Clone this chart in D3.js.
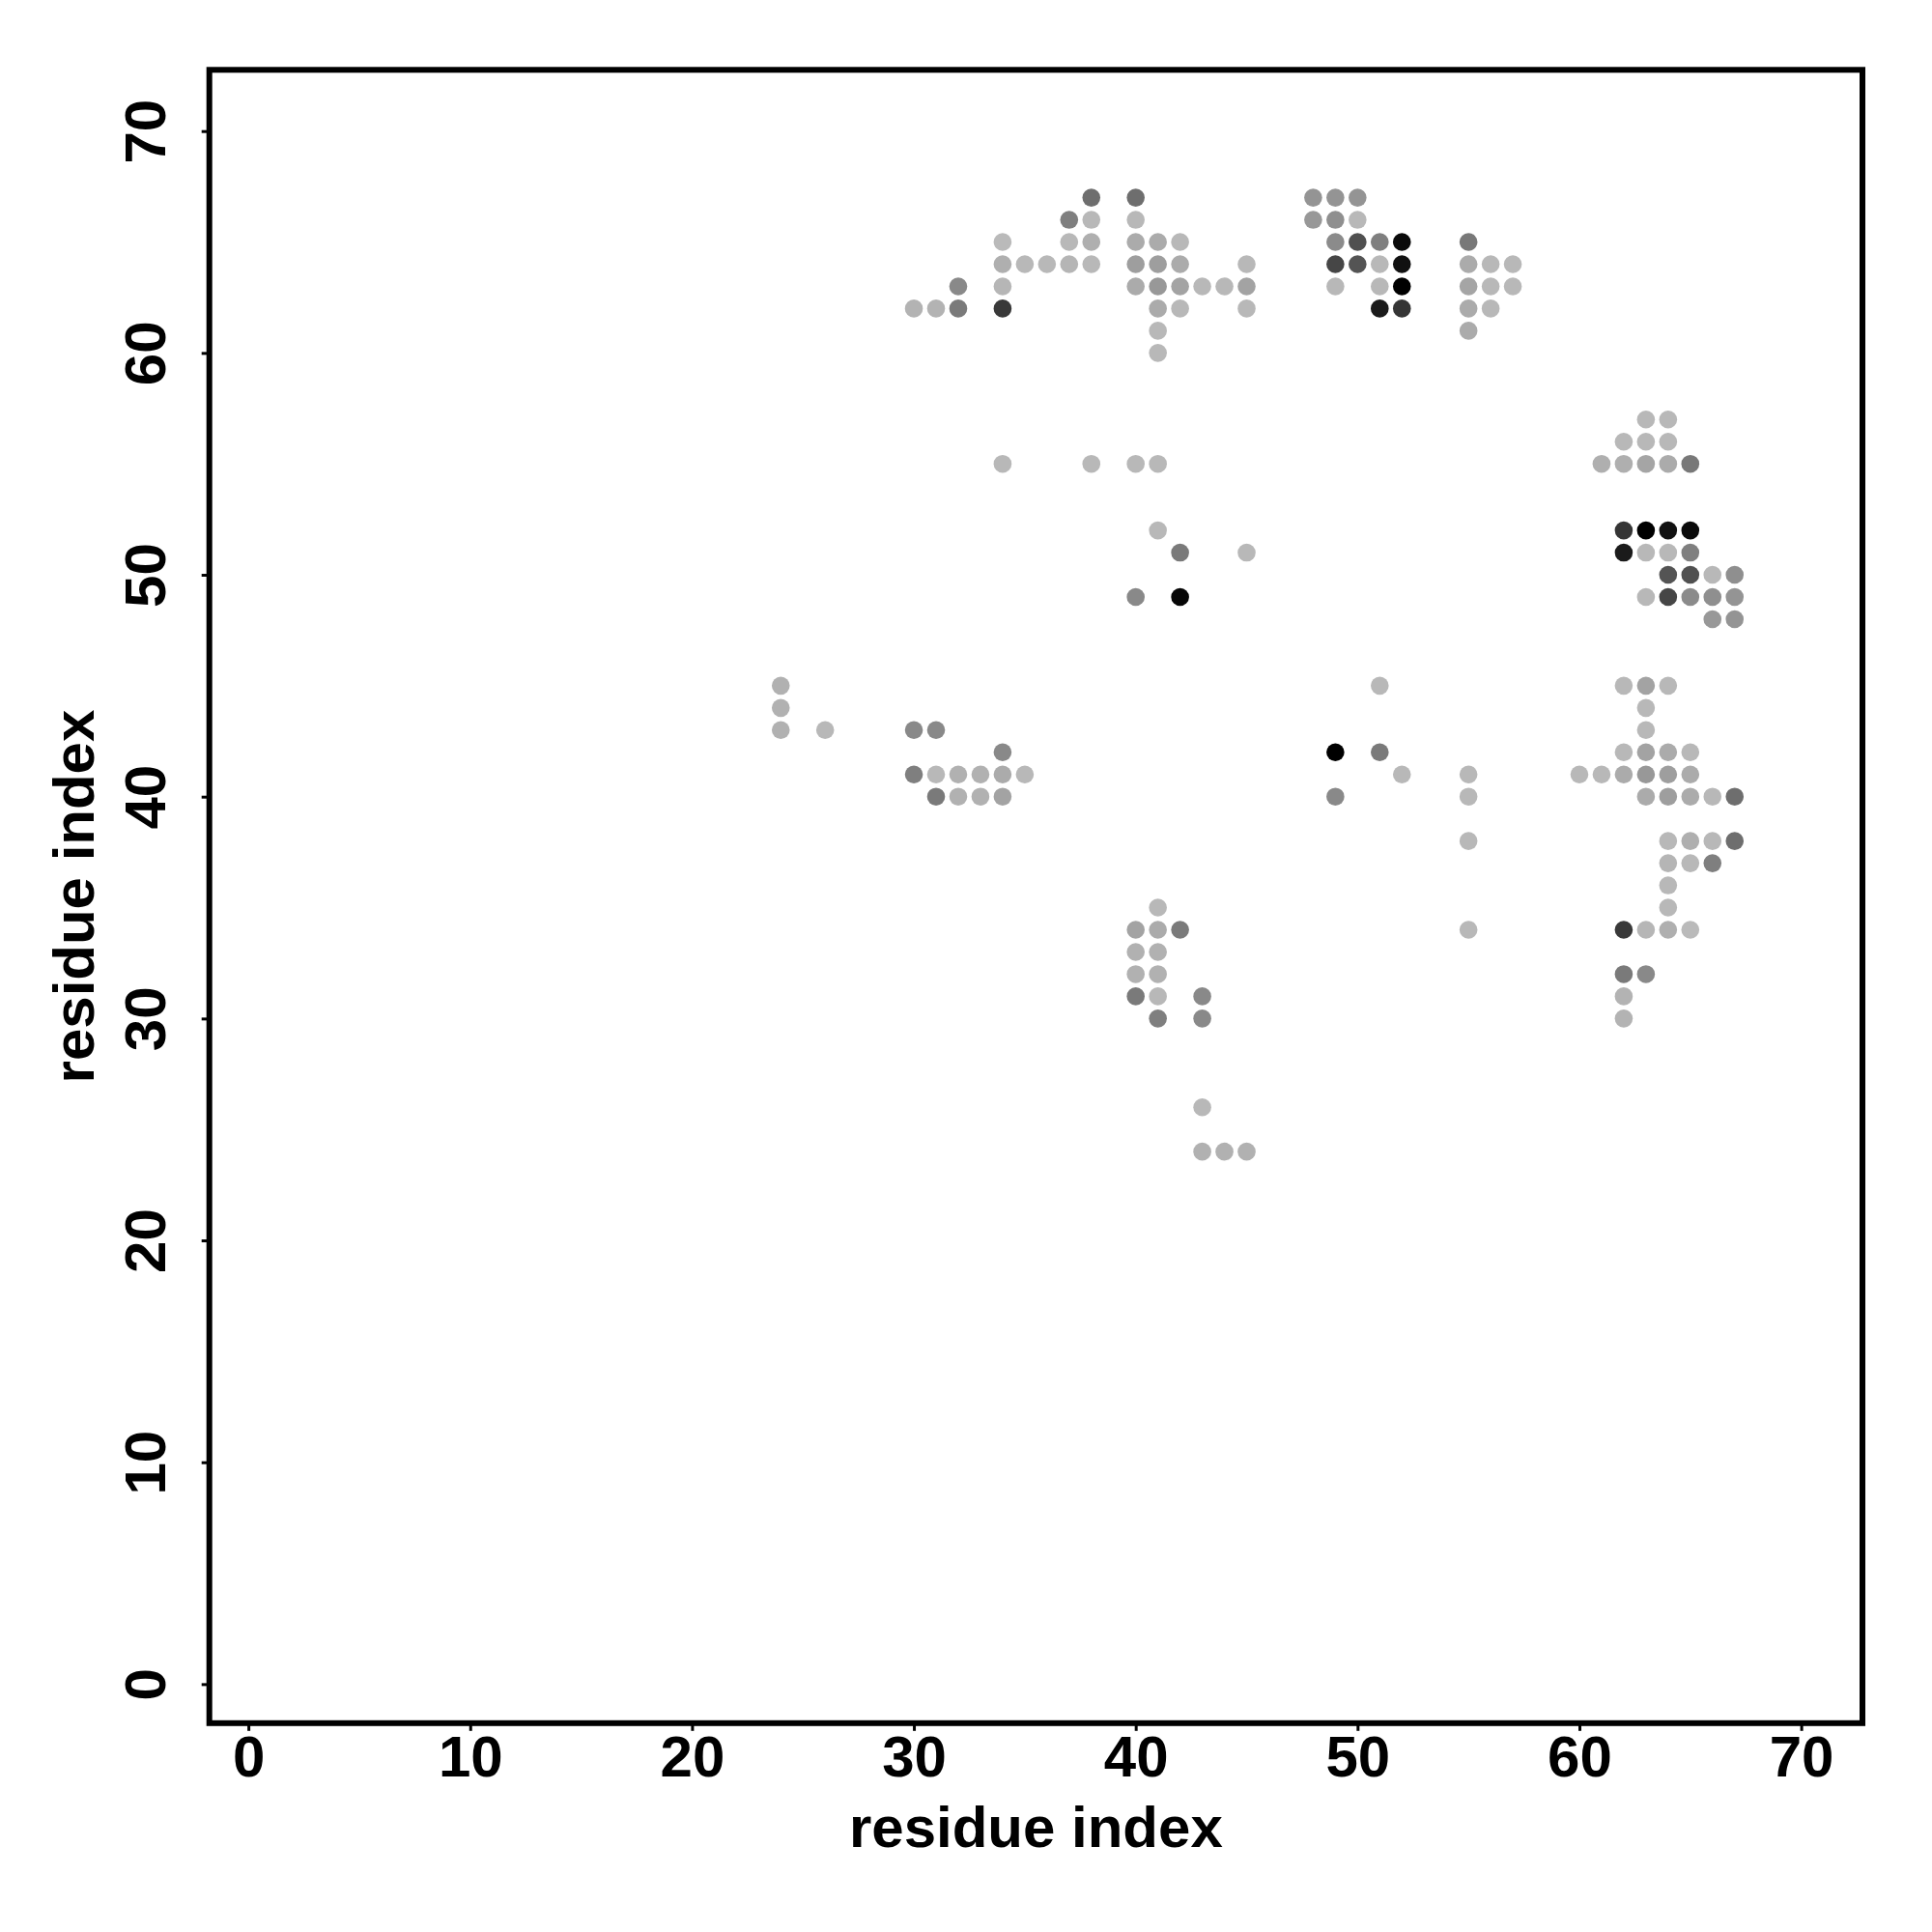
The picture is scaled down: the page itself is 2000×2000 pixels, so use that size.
<!DOCTYPE html>
<html>
<head>
<meta charset="utf-8">
<script src="https://cdn.jsdelivr.net/npm/d3@7"></script>
<style>
  html, body { margin: 0; padding: 0; background: #fff; }
  svg text { font-family: "Liberation Sans", Arial, Helvetica, sans-serif; font-weight: bold; }
</style>
</head>
<body>
<svg id="chart" width="2000" height="2000"></svg>
<script>
// Contact map: [residue i, residue j, contact score 0..1]
const topLeftCluster = [
  [30,62,0.06],[31,62,0.06],[32,62,0.36],[32,63,0.28],
  [34,65,0.02],[34,64,0.08],[34,63,0.04],[34,62,0.70],
  [35,64,0.03],[36,64,0.03],[37,64,0.05],[37,65,0.03],[37,66,0.33],
  [38,67,0.42],[38,66,0.03],[38,65,0.08],[38,64,0.03],
  [40,67,0.42],[40,66,0.03],[40,65,0.10],[40,64,0.17],[40,63,0.10],
  [41,65,0.10],[41,64,0.17],[41,63,0.20],[41,62,0.10],[41,61,0.03],[41,60,0.03],
  [42,65,0.03],[42,64,0.10],[42,63,0.14],[42,62,0.03],
  [43,63,0.03],[44,63,0.03],
  [45,64,0.03],[45,63,0.14],[45,62,0.03]
];
const topRightCluster = [
  [48,67,0.22],[48,66,0.20],
  [49,67,0.22],[49,66,0.25],[49,65,0.27],[49,64,0.63],[49,63,0.03],
  [50,67,0.22],[50,66,0.03],[50,65,0.58],[50,64,0.56],
  [51,65,0.33],[51,64,0.03],[51,63,0.03],[51,62,0.86],
  [52,65,0.95],[52,64,0.91],[52,63,1.00],[52,62,0.72],
  [55,65,0.37],[55,64,0.10],[55,63,0.13],[55,62,0.10],[55,61,0.10],
  [56,64,0.03],[56,63,0.03],[56,62,0.03],
  [57,64,0.03],[57,63,0.03]
];
const middleCluster = [
  [34,55,0.03],[38,55,0.03],[40,55,0.03],[41,55,0.03],
  [41,52,0.03],[42,51,0.36],[45,51,0.03],[40,49,0.28],[42,49,0.97]
];
const rightUpperCluster = [
  [63,57,0.03],[64,57,0.03],
  [62,56,0.03],[63,56,0.03],[64,56,0.03],
  [61,55,0.08],[62,55,0.08],[63,55,0.13],[64,55,0.10],[65,55,0.37],
  [62,52,0.72],[63,52,1.00],[64,52,0.91],[65,52,0.95],
  [62,51,0.86],[63,51,0.03],[64,51,0.03],[65,51,0.33],
  [64,50,0.56],[65,50,0.58],[66,50,0.03],[67,50,0.25],
  [63,49,0.03],[64,49,0.63],[65,49,0.27],[66,49,0.25],[67,49,0.22],
  [66,48,0.20],[67,48,0.22]
];
const leftMiddleCluster = [
  [24,45,0.07],[24,44,0.07],[24,43,0.07],[26,43,0.03],
  [30,43,0.28],[31,43,0.28],[34,42,0.28],
  [30,41,0.33],[31,41,0.03],[32,41,0.07],[33,41,0.07],[34,41,0.10],[35,41,0.03],
  [31,40,0.36],[32,40,0.07],[33,40,0.07],[34,40,0.14]
];
const centerCluster = [
  [51,45,0.03],[49,42,1.00],[51,42,0.36],[52,41,0.03],[55,41,0.03],
  [49,40,0.28],[55,40,0.03],[55,38,0.03],[55,34,0.03]
];
const bottomCluster = [
  [41,35,0.03],
  [40,34,0.14],[41,34,0.10],[42,34,0.36],
  [40,33,0.07],[41,33,0.07],
  [40,32,0.07],[41,32,0.07],
  [40,31,0.36],[41,31,0.03],[43,31,0.28],
  [41,30,0.33],[43,30,0.28],
  [43,26,0.03],
  [43,24,0.07],[44,24,0.07],[45,24,0.07]
];
const rightLowerCluster = [
  [62,45,0.03],[63,45,0.14],[64,45,0.03],
  [63,44,0.03],[63,43,0.03],
  [62,42,0.03],[63,42,0.14],[64,42,0.10],[65,42,0.03],
  [60,41,0.03],[61,41,0.03],[62,41,0.10],[63,41,0.20],[64,41,0.17],[65,41,0.10],
  [63,40,0.10],[64,40,0.17],[65,40,0.10],[66,40,0.03],[67,40,0.42],
  [64,38,0.03],[65,38,0.08],[66,38,0.03],[67,38,0.42],
  [64,37,0.05],[65,37,0.03],[66,37,0.33],
  [64,36,0.03],[64,35,0.03],
  [62,34,0.70],[63,34,0.04],[64,34,0.08],[65,34,0.02],
  [62,32,0.36],[63,32,0.28],
  [62,31,0.06],[62,30,0.06]
];
const xTicks = [0, 10, 20, 30, 40, 50, 60, 70];
const yTicks = [0, 10, 20, 30, 40, 50, 60, 70];
const xTitle = "residue index";
const yTitle = "residue index";
const residueRange = [1, 70];

const contacts = [].concat(topLeftCluster, topRightCluster, middleCluster, rightUpperCluster,
  leftMiddleCluster, centerCluster, bottomCluster, rightLowerCluster);

// Layout
const plot = { left: 216.7, right: 1928, top: 72.3, bottom: 1783.8 };
const ext = 0.04 * (residueRange[1] - residueRange[0]);
const dom = [residueRange[0] - ext, residueRange[1] + ext];

const x = d3.scaleLinear().domain(dom).range([plot.left, plot.right]);
const y = d3.scaleLinear().domain(dom).range([plot.bottom, plot.top]);
const color = d3.scaleLinear().domain([0, 1]).range(["#bebebe", "#000000"]);

const svg = d3.select("#chart");
svg.append("rect").attr("width", 2000).attr("height", 2000).attr("fill", "#fff");

// Points
svg.append("g").selectAll("circle")
  .data(contacts)
  .join("circle")
  .attr("cx", d => x(d[0]))
  .attr("cy", d => y(d[1]))
  .attr("r", 9.3)
  .attr("fill", d => color(d[2]));

// X axis
const fontSize = 60;
const gx = svg.append("g")
  .attr("transform", `translate(0,${plot.bottom})`)
  .call(d3.axisBottom(x).tickValues(xTicks).tickFormat(d3.format("d")).tickSize(8).tickPadding(5));
gx.select(".domain").remove();
gx.selectAll(".tick line").attr("stroke", "#000").attr("stroke-width", 3);
gx.selectAll(".tick text").attr("font-size", fontSize).attr("fill", "#000");

// Y axis
const gy = svg.append("g")
  .attr("transform", `translate(${plot.left},0)`)
  .call(d3.axisLeft(y).tickValues(yTicks).tickFormat(d3.format("d")).tickSize(8));
gy.select(".domain").remove();
gy.selectAll(".tick line").attr("stroke", "#000").attr("stroke-width", 3);
gy.selectAll(".tick text")
  .attr("font-size", fontSize)
  .attr("fill", "#000")
  .attr("transform", "rotate(-90)")
  .attr("x", 0)
  .attr("y", -46)
  .attr("dy", 0)
  .attr("text-anchor", "middle");

// Box
svg.append("rect")
  .attr("x", plot.left).attr("y", plot.top)
  .attr("width", plot.right - plot.left).attr("height", plot.bottom - plot.top)
  .attr("fill", "none").attr("stroke", "#000").attr("stroke-width", 6);

// Titles
svg.append("text")
  .attr("x", (plot.left + plot.right) / 2).attr("y", 1912)
  .attr("text-anchor", "middle").attr("font-size", fontSize).attr("fill", "#000")
  .text(xTitle);
svg.append("text")
  .attr("transform", `translate(97,${(plot.top + plot.bottom) / 2}) rotate(-90)`)
  .attr("text-anchor", "middle").attr("font-size", fontSize).attr("fill", "#000")
  .text(yTitle);
</script>
</body>
</html>
